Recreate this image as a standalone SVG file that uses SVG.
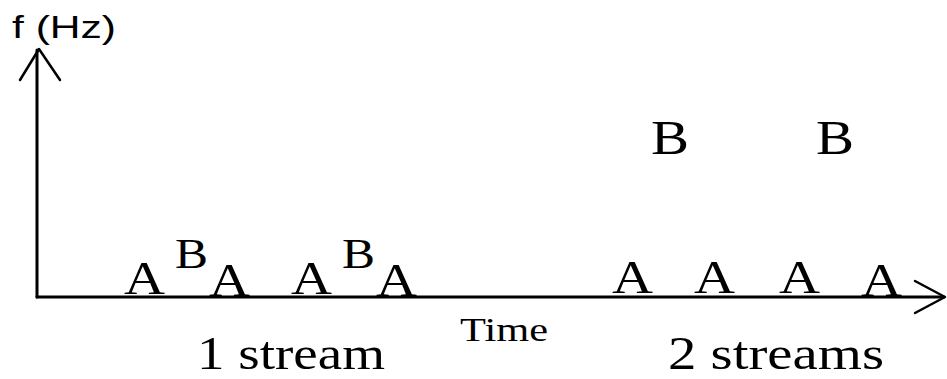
<svg xmlns="http://www.w3.org/2000/svg" width="947" height="379" viewBox="0 0 947 379">
<style>
.t{font-family:"Liberation Serif","Times New Roman",serif;fill:#000}
.s{font-family:"Liberation Sans",Arial,sans-serif;fill:#000}
.ax{stroke:#000;stroke-width:3;fill:none;stroke-linecap:round;stroke-linejoin:round}
.ah{stroke:#000;stroke-width:2.5;fill:none;stroke-linecap:round;stroke-linejoin:round}
</style>
<rect width="947" height="379" fill="#fff"/>
<g id="axes">
<line class="ax" x1="37" y1="50" x2="37" y2="297"/>
<line class="ax" x1="37" y1="297" x2="944" y2="297"/>
<polyline class="ah" points="20,80 39,49 60,80"/>
<polyline class="ah" points="915,281 945,297 915,313"/>
</g>
<g id="labels">
<text class="s" x="12" y="38" font-size="32" textLength="104" lengthAdjust="spacingAndGlyphs">f (Hz)</text>
<text class="t" x="460" y="341" font-size="33" textLength="88" lengthAdjust="spacingAndGlyphs">Time</text>
<text class="t" x="197" y="369" font-size="46" textLength="188" lengthAdjust="spacingAndGlyphs">1 stream</text>
<text class="t" x="668" y="369" font-size="46" textLength="216" lengthAdjust="spacingAndGlyphs">2 streams</text>
</g>
<g id="stream1">
<text class="t" x="124" y="294" font-size="47" textLength="41" lengthAdjust="spacingAndGlyphs">A</text>
<text class="t" x="175" y="268" font-size="43" textLength="33" lengthAdjust="spacingAndGlyphs">B</text>
<text class="t" x="209" y="296" font-size="47" textLength="41" lengthAdjust="spacingAndGlyphs">A</text>
<text class="t" x="291" y="294" font-size="47" textLength="41" lengthAdjust="spacingAndGlyphs">A</text>
<text class="t" x="342" y="268" font-size="43" textLength="33" lengthAdjust="spacingAndGlyphs">B</text>
<text class="t" x="376" y="296" font-size="47" textLength="41" lengthAdjust="spacingAndGlyphs">A</text>
</g>
<g id="stream2">
<text class="t" x="651" y="154" font-size="48" textLength="38" lengthAdjust="spacingAndGlyphs">B</text>
<text class="t" x="816" y="154" font-size="48" textLength="38" lengthAdjust="spacingAndGlyphs">B</text>
<text class="t" x="612" y="293" font-size="47" textLength="41" lengthAdjust="spacingAndGlyphs">A</text>
<text class="t" x="694" y="293" font-size="47" textLength="41" lengthAdjust="spacingAndGlyphs">A</text>
<text class="t" x="779" y="293" font-size="47" textLength="41" lengthAdjust="spacingAndGlyphs">A</text>
<text class="t" x="861" y="296" font-size="47" textLength="41" lengthAdjust="spacingAndGlyphs">A</text>
</g>
</svg>
